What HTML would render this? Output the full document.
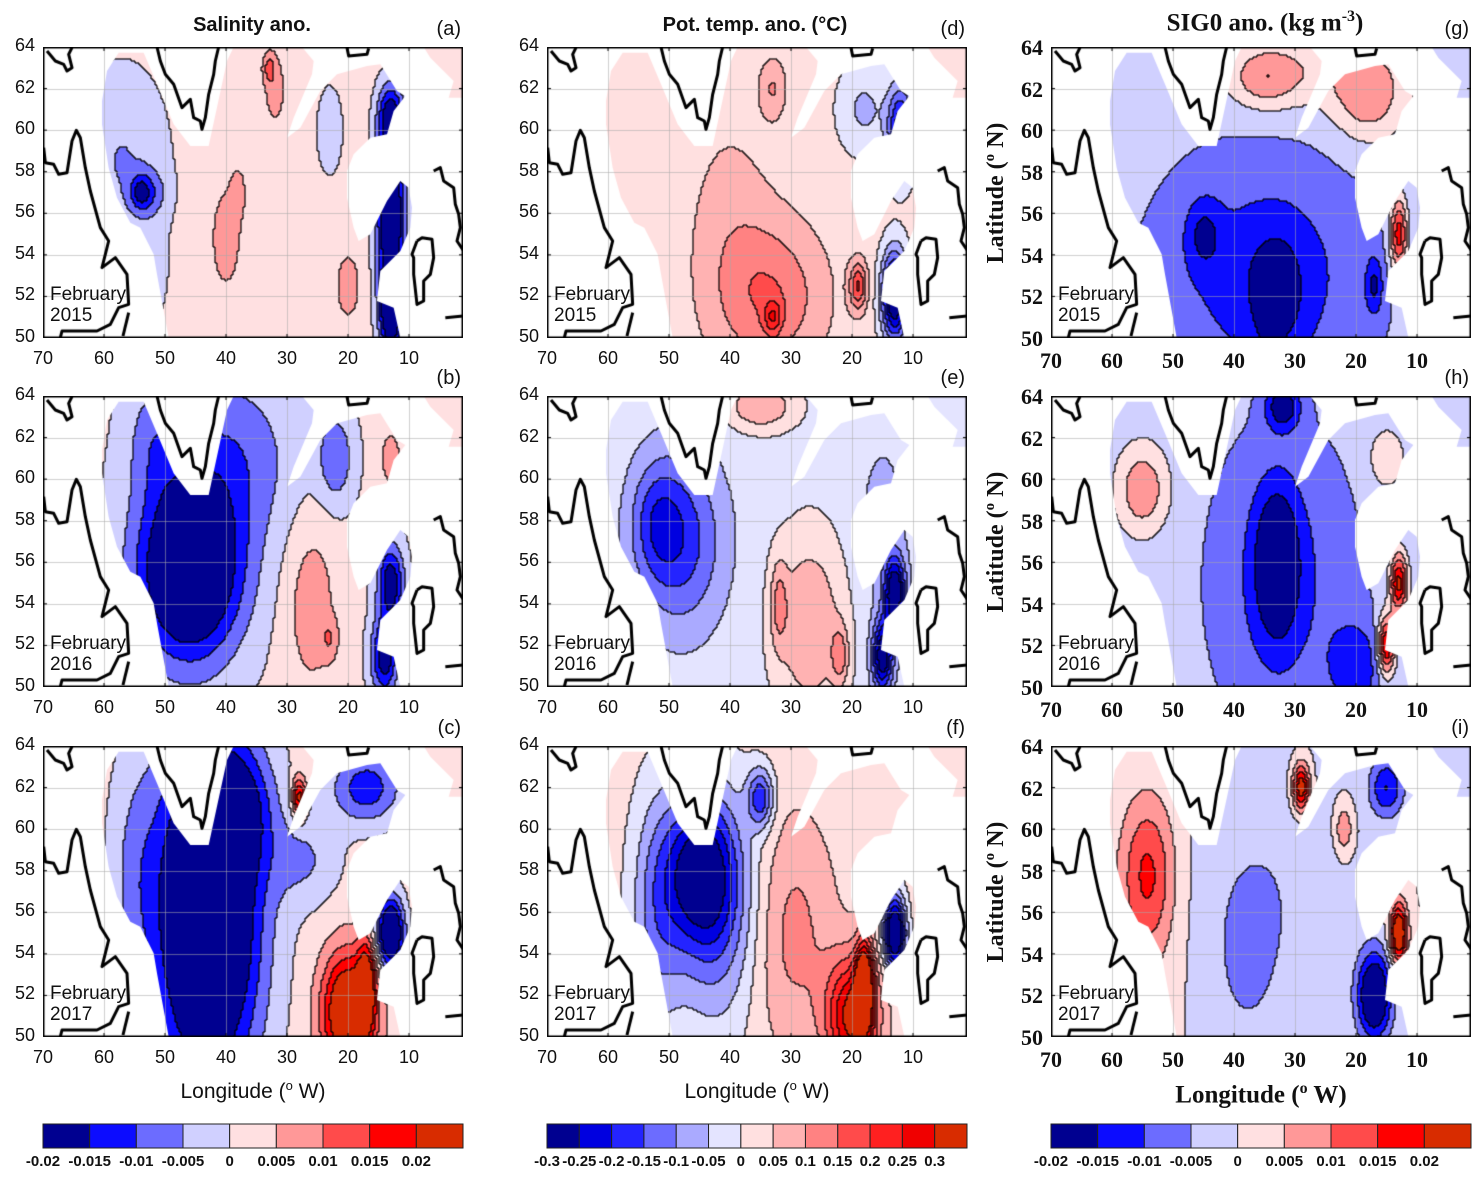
<!DOCTYPE html>
<html><head><meta charset="utf-8">
<style>
body{margin:0;background:#fff;}
#fig{position:relative;width:1484px;height:1183px;overflow:hidden;background:#fff;font-family:"Liberation Sans",Arial,sans-serif;}
.t{position:absolute;white-space:nowrap;color:#111;}
canvas{position:absolute;}
.ttl{font-weight:bold;font-size:20px;}
.ser{font-family:"Liberation Serif","Times New Roman",serif;font-weight:bold;}
</style></head>
<body>
<div id="fig"></div>
<script>
// ---------------- DATA ----------------
// blobs: [lon(°W), lat(°N), amplitude, sigmaLon(deg), sigmaLat(deg)]
const baseSal = [0.0018, 0.001, 0.002];
const blobsA = [[57,58.5,-0.007,5,3],[54,57,-0.012,1.2,0.6],[52,57,-0.006,1.8,0.8],[40,54.8,0.008,1.5,1.5],[38,57,0.005,1,1],[32,62,0.006,1.2,1.2],[33,63,0.008,0.7,0.5],[20,52.5,0.008,1.2,1],[13,60.5,-0.022,1.5,1.2],[13,56,-0.028,1.6,2.2],[13,51.5,-0.03,1.3,1.5],[23,60,-0.005,1.5,1.5],[52,53,-0.003,2,2]];
const blobsB = [[46,55.5,-0.03,6,3],[40,61,-0.01,8,3],[26,54,0.007,3,3],[23,52.3,0.006,1,0.7],[13,55,-0.02,1.5,1.3],[14,51.5,-0.02,1.5,1.3],[22,61,-0.01,2,1.5],[13,61,0.006,1.5,1.2],[52,62,-0.006,3,2]];
const blobsC = [[43,56,-0.036,6,6],[38,61,-0.012,4,2],[20,51.2,0.03,3,2],[17,52.5,0.02,1,1.5],[13,55,-0.03,1.5,1.2],[17,62,-0.015,4,1.2],[28,61.5,0.022,0.8,0.7],[27,58.5,-0.007,4,1.5],[55,58,-0.006,3,4]];
const baseTmp = [0.02, -0.02, 0.02];
const blobsD = [[33,52,0.12,6,2.5],[33,51,0.12,1,0.6],[19,52.5,0.18,1,0.8],[13,52,-0.35,1.5,1.5],[12,60,-0.25,1.5,1.5],[18,61,-0.08,3,1.5],[33,62,0.08,1.5,1],[40,55,0.05,5,4]];
const blobsE = [[48,57,-0.15,5,3],[52,58,-0.1,3,2],[27,53,0.12,4,3],[32,54,0.1,1,1.5],[22,51.5,0.12,1,1],[35,63.5,0.12,4,0.8],[13,54.5,-0.3,1.2,1.2],[15,51.5,-0.28,1.2,1.2],[15,58,-0.05,3,3]];
const blobsF = [[45,58,-0.25,4,2.5],[42,56,-0.15,5,4],[35,61.5,-0.2,1.5,1],[20,51,0.3,3,2],[18,52.5,0.35,1,1.5],[13,55,-0.4,1.2,1.2],[30,55,0.1,5,4],[52,56,-0.12,3,4]];
const baseSig = [-0.003, -0.003, 0.0];
const blobsG = [[35,53,-0.01,12,4],[45,55,-0.008,2,1.2],[33,52,-0.008,3,2],[34,51,-0.012,1,0.8],[35,62.5,0.01,4,1],[18,61.5,0.01,4,1.5],[25,63,0.006,10,1.5],[13,55,0.022,1,1.2],[17,52.5,-0.01,1,1]];
const blobsH = [[55,59.5,0.012,3,1.5],[33,56,-0.015,2.5,2.5],[32,55,-0.008,8,5],[20,51,-0.01,3,1.5],[15,52,0.025,1,1],[13,55,0.025,1,1],[32,63.5,-0.015,2,0.8],[15,61,0.008,2,1]];
const blobsI = [[54,58,0.012,3,2.5],[55,56,0.005,4,4],[35,57,-0.0045,8,4],[17,52,-0.025,2,1.5],[13,55,0.03,1,1],[29,62,0.025,1,0.8],[22,60,0.01,1,0.8],[15,62,-0.015,2,1],[38,53,-0.004,4,3]];
const yearLabels = ["2015","2016","2017"];
const panelLetters = [["(a)","(b)","(c)"],["(d)","(e)","(f)"],["(g)","(h)","(i)"]];
const lonTicks = [70,60,50,40,30,20,10];
const latTicks = [64,62,60,58,56,54,52,50];
const cbLabelsSal = ["-0.02","-0.015","-0.01","-0.005","0","0.005","0.01","0.015","0.02"];
const cbLabelsTmp = ["-0.3","-0.25","-0.2","-0.15","-0.1","-0.05","0","0.05","0.1","0.15","0.2","0.25","0.3"];
const colSal = ["#000090","#0c0cff","#6c6cff","#d0d0ff","#ffe0e1","#ff9898","#ff4b4b","#ff0000","#d82c00"];
const colTmp = ["#000090","#0000e0","#2424ff","#6c6cff","#aaaaff","#e4e4ff","#ffe0e0","#ffb2b2","#ff8282","#ff4b4b","#ff2020","#f00000","#d82c00"];

// ---------------- GEOMETRY ----------------
const colX=[43,547,1051], rowY=[47,396,746], PW=420, PH=291;
const lonToX = lon => (70-lon)*6.1;
const latToY = lat => (64-lat)*PH/14;
const xToLon = x => 70 - x/6.1;
const yToLat = y => 64 - y*14/PH;
const Z = p => [(p[0]-128)/3,(p[1]-18)/3];
const maskMain = [[305,180],[320,90],[355,35],[430,35],[470,130],[520,250],[570,315],[625,315],[680,60],[700,18],[905,18],[940,60],[935,100],[880,230],[860,290],[900,260],[960,150],[1010,100],[1100,75],[1140,70],[1190,150],[1215,165],[1180,210],[1160,280],[1110,290],[1060,340],[1040,390],[1040,470],[1060,560],[1075,600],[1110,580],[1160,480],[1200,420],[1225,440],[1235,500],[1230,560],[1200,630],[1140,690],[1130,780],[1180,800],[1200,890],[505,890],[470,700],[460,640],[420,560],[390,545],[350,470],[325,380],[305,250]];
const maskPatch = [[1270,18],[1390,18],[1390,170],[1345,170],[1360,120],[1290,50]];
const coasts = [
 [[130,320],[135,365],[160,370],[175,400],[200,395],[215,300],[228,268],[240,290],[255,380],[270,450],[300,560],[325,600],[305,680],[345,650],[380,700],[385,790],[355,800],[330,850],[290,870],[185,870],[180,890]],
 [[140,30],[165,60],[190,70],[200,90],[215,80],[205,40],[215,20]],
 [[470,18],[480,60],[495,100],[520,130],[545,200],[570,175],[580,230],[600,240],[605,265],[615,230],[625,160],[640,100],[645,60],[655,18]],
 [[1040,20],[1045,45],[1100,40],[1105,22]],
 [[1300,390],[1320,380],[1330,420],[1360,440],[1365,490],[1375,520],[1380,560],[1370,600],[1390,630]],
 [[1250,600],[1265,590],[1295,595],[1300,650],[1290,700],[1270,720],[1270,780],[1250,790],[1240,700],[1240,650],[1235,640],[1250,600]],
 [[1335,830],[1390,825]],
 [[385,815],[368,885]]
];

const fig=document.getElementById('fig');
function txt(s,x,y,cls,style,name){
  const d=document.createElement('div');
  d.className='t '+(cls||'');
  d.textContent=s;
  d.style.left=x+'px';d.style.top=y+'px';
  if(style) d.style.cssText+=style;
  
  
  fig.appendChild(d);return d;
}

const panels=[[blobsA,blobsB,blobsC],[blobsD,blobsE,blobsF],[blobsG,blobsH,blobsI]];
const bases=[baseSal,baseTmp,baseSig];
const steps=[0.005,0.05,0.005];
const zeroIdx=[4,6,4];
const cols=[colSal,colTmp,colSal];

function field(blobs,base,lon,lat){
  let v=base;
  for(const b of blobs){const dx=(lon-b[0])/b[3],dy=(lat-b[1])/b[4];v+=b[2]*Math.exp(-0.5*(dx*dx+dy*dy));}
  return v;
}

function drawPanel(c,r){
  const cv=document.createElement('canvas');
  cv.width=PW;cv.height=PH;cv.style.left=colX[c]+'px';cv.style.top=rowY[r]+'px';
  
  
  fig.appendChild(cv);
  const ctx=cv.getContext('2d');
  const cell=2, nx=Math.ceil(PW/cell), ny=Math.ceil(PH/cell);
  const blobs=panels[c][r], base=bases[c][r], st=steps[c], zi=zeroIdx[c], pal=cols[c], nL=pal.length;
  const L=[];
  for(let j=0;j<ny;j++){L.push([]);for(let i=0;i<nx;i++){
    const v=field(blobs,base,xToLon(i*cell+1),yToLat(j*cell+1));
    let k=Math.floor(v/st)+zi; k=Math.max(0,Math.min(nL-1,k)); L[j].push(k);
    ctx.fillStyle=pal[k];ctx.fillRect(i*cell,j*cell,cell,cell);
  }}
  ctx.fillStyle='#000';
  for(let j=0;j<ny;j++)for(let i=0;i<nx;i++){
    if(i<nx-1&&L[j][i]!==L[j][i+1])ctx.fillRect(i*cell+cell-0.6,j*cell,1.2,cell);
    if(j<ny-1&&L[j][i]!==L[j+1][i])ctx.fillRect(i*cell,j*cell+cell-0.6,cell,1.2);
  }
  ctx.globalCompositeOperation='destination-in';
  ctx.beginPath();
  for(const poly of [maskMain,maskPatch]){poly.forEach((p,k)=>{const q=Z(p);k?ctx.lineTo(q[0],q[1]):ctx.moveTo(q[0],q[1]);});ctx.closePath();}
  ctx.fill();
  ctx.globalCompositeOperation='destination-over';
  ctx.fillStyle='#fff';ctx.fillRect(0,0,PW,PH);
  ctx.globalCompositeOperation='source-over';
  ctx.strokeStyle='rgba(170,170,170,0.55)';ctx.lineWidth=1;
  for(const lo of [60,50,40,30,20,10]){const x=Math.round(lonToX(lo))+0.5;ctx.beginPath();ctx.moveTo(x,0);ctx.lineTo(x,PH);ctx.stroke();}
  for(const la of [62,60,58,56,54,52]){const y=Math.round(latToY(la))+0.5;ctx.beginPath();ctx.moveTo(0,y);ctx.lineTo(PW,y);ctx.stroke();}
  ctx.strokeStyle='#000';ctx.lineWidth=3;ctx.lineJoin='round';
  for(const cl of coasts){ctx.beginPath();cl.forEach((p,k)=>{const q=Z(p);k?ctx.lineTo(q[0],q[1]):ctx.moveTo(q[0],q[1]);});ctx.stroke();}
  ctx.lineWidth=1.5;ctx.strokeRect(0.75,0.75,PW-1.5,PH-1.5);
  ctx.lineWidth=1;
  for(const lo of [60,50,40,30,20,10]){const x=lonToX(lo);ctx.beginPath();ctx.moveTo(x,PH);ctx.lineTo(x,PH-4);ctx.moveTo(x,0);ctx.lineTo(x,4);ctx.stroke();}
  for(const la of latTicks){const y=latToY(la);ctx.beginPath();ctx.moveTo(0,y);ctx.lineTo(4,y);ctx.moveTo(PW,y);ctx.lineTo(PW-4,y);ctx.stroke();}

  const X=colX[c],Y=rowY[r];
  const serif=(c===2);
  txt('February',X+7,Y+238,'','font-size:19px;line-height:20px;','month-label');
  txt(yearLabels[r],X+7,Y+259,'','font-size:19px;line-height:20px;','year-label');
  txt(panelLetters[c][r],X+PW-2,Y-29,'','font-size:20px;transform:translateX(-100%);','panel-letter');
  latTicks.forEach(la=>{
    txt(String(la),X-8,Y+latToY(la)-12,serif?'ser':'',(serif?'font-size:22px;':'font-size:18px;')+'transform:translateX(-100%);','y-tick-label');
  });
  lonTicks.forEach(lo=>{
    txt(String(lo),X+lonToX(lo),Y+PH+10,serif?'ser':'',(serif?'font-size:22px;':'font-size:18px;')+'transform:translateX(-50%);','x-tick-label');
  });
  if(serif){
    const d=txt('Latitude (\u00B0 N)',X-55,Y+PH/2,'ser','font-size:24px;transform:translate(-50%,-50%) rotate(-90deg);','y-axis-title');
    d.innerHTML='Latitude (<sup style="font-size:15px">o</sup> N)';
  }
}
for(let c=0;c<3;c++)for(let r=0;r<3;r++)drawPanel(c,r);

txt('Salinity ano.',252,14,'ttl','transform:translateX(-50%);','title-salinity');
txt('Pot. temp. ano. (\u00B0C)',755,14,'ttl','transform:translateX(-50%);','title-temperature');
const t3=txt('',1265,8,'ser','font-size:25px;transform:translateX(-50%);','title-density');
t3.innerHTML='SIG0 ano. (kg m<sup style="font-size:16px">-3</sup>)';
for(let c=0;c<2;c++){const d=txt('',colX[c]+210,1078,'','font-size:21px;transform:translateX(-50%);','x-axis-title');d.innerHTML='Longitude (<sup style="font-size:13px">o</sup> W)';}
{const d=txt('',colX[2]+210,1080,'ser','font-size:25px;transform:translateX(-50%);','x-axis-title');d.innerHTML='Longitude (<sup style="font-size:16px">o</sup> W)';}

function colorbar(c,pal,labels){
  const X=colX[c],W=PW,n=pal.length,bw=W/n;
  const svgNS='http://www.w3.org/2000/svg';
  const svg=document.createElementNS(svgNS,'svg');
  svg.setAttribute('width',W+2);svg.setAttribute('height',28);
  svg.style.position='absolute';svg.style.left=(X-1)+'px';svg.style.top='1123px';
  
  
  pal.forEach((col,i)=>{
    const rc=document.createElementNS(svgNS,'rect');
    rc.setAttribute('x',1+i*bw);rc.setAttribute('y',1);rc.setAttribute('width',bw);rc.setAttribute('height',24);
    rc.setAttribute('fill',col);rc.setAttribute('stroke','#222');rc.setAttribute('stroke-width',1);
    
    
    svg.appendChild(rc);
  });
  fig.appendChild(svg);
  labels.forEach((s,i)=>{
    txt(s,X+i*bw,1153,'','font-size:15px;font-weight:bold;transform:translateX(-50%);','colorbar-tick-label');
  });
}
colorbar(0,colSal,cbLabelsSal);
colorbar(1,colTmp,cbLabelsTmp);
colorbar(2,colSal,cbLabelsSal);
</script>
</body></html>
